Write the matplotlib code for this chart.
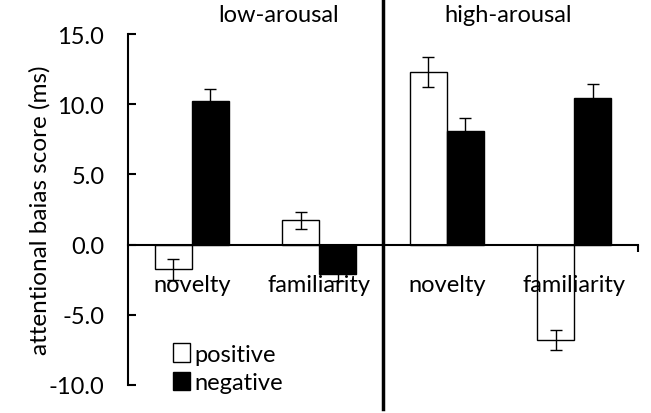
import matplotlib
matplotlib.use("Agg")
import matplotlib.pyplot as plt
import numpy as np
from matplotlib.patches import Patch
from matplotlib.lines import Line2D

# values
categories = ["novelty", "familiarity", "novelty", "familiarity"]
positive = [-1.75, 1.72, 12.3, -6.8]
positive_err = [0.75, 0.58, 1.05, 0.71]
negative = [10.2, -2.1, 8.1, 10.43]
negative_err = [0.9, 0.5, 0.95, 1.0]
groups = ["low-arousal", "high-arousal"]

plt.rcParams['font.family'] = ['Lato', 'DejaVu Sans']
fs = 17

fig = plt.figure(figsize=(6.51, 4.14), dpi=100)
ax = fig.add_axes([128/651, 1-386/414, 510/651, 351/414])

x = np.arange(len(categories))
w = 0.29
ax.bar(x - w/2, positive, w, color='white', edgecolor='black', linewidth=1,
       yerr=positive_err, error_kw=dict(ecolor='black', elinewidth=1, capsize=4, capthick=1),
       label='positive')
ax.bar(x + w/2, negative, w, color='black', edgecolor='black', linewidth=1,
       yerr=negative_err, error_kw=dict(ecolor='black', elinewidth=1, capsize=4, capthick=1),
       label='negative')

ax.set_xlim(-0.5, 3.5)
ax.set_ylim(-10, 15)
ax.set_yticks([15, 10, 5, 0, -5, -10])
ax.set_yticklabels(['15.0', '10.0', '5.0', '0.0', '-5.0', '-10.0'])
ax.tick_params(axis='y', direction='in', length=6, width=1.5, pad=17, labelsize=fs)

ax.spines['top'].set_visible(False)
ax.spines['right'].set_visible(False)
ax.spines['left'].set_linewidth(1.5)
ax.spines['bottom'].set_position(('data', 0))
ax.spines['bottom'].set_linewidth(1.5)
ax.set_xticks(x)
ax.set_xticklabels(categories)
ax.set_xticks([3.5], minor=True)
ax.tick_params(axis='x', which='major', direction='out', length=0, pad=21, labelsize=fs)
ax.tick_params(axis='x', which='minor', direction='out', length=5, width=1.5)

ax.set_ylabel('attentional baias score (ms)', fontsize=17.5)
ax.yaxis.set_label_coords(-0.152, 0.5)

# divider between the two arousal groups
fig.add_artist(Line2D([383/651, 383/651], [1-2/414, 1-410/414], color='black', linewidth=2.5))
fig.text(279/651, 1-16/414, groups[0], ha='center', va='center', fontsize=fs)
fig.text(508/651, 1-16/414, groups[1], ha='center', va='center', fontsize=fs)

handles = [Patch(facecolor='white', edgecolor='black'), Patch(facecolor='black', edgecolor='black')]
ax.legend(handles, ['positive', 'negative'], loc='lower left', bbox_to_anchor=(0.056, -0.07),
          frameon=False, handlelength=0.7, handleheight=0.8, handletextpad=0.2,
          labelspacing=0.3, fontsize=fs, borderaxespad=0.3)

fig.savefig('out.png', dpi=100)
